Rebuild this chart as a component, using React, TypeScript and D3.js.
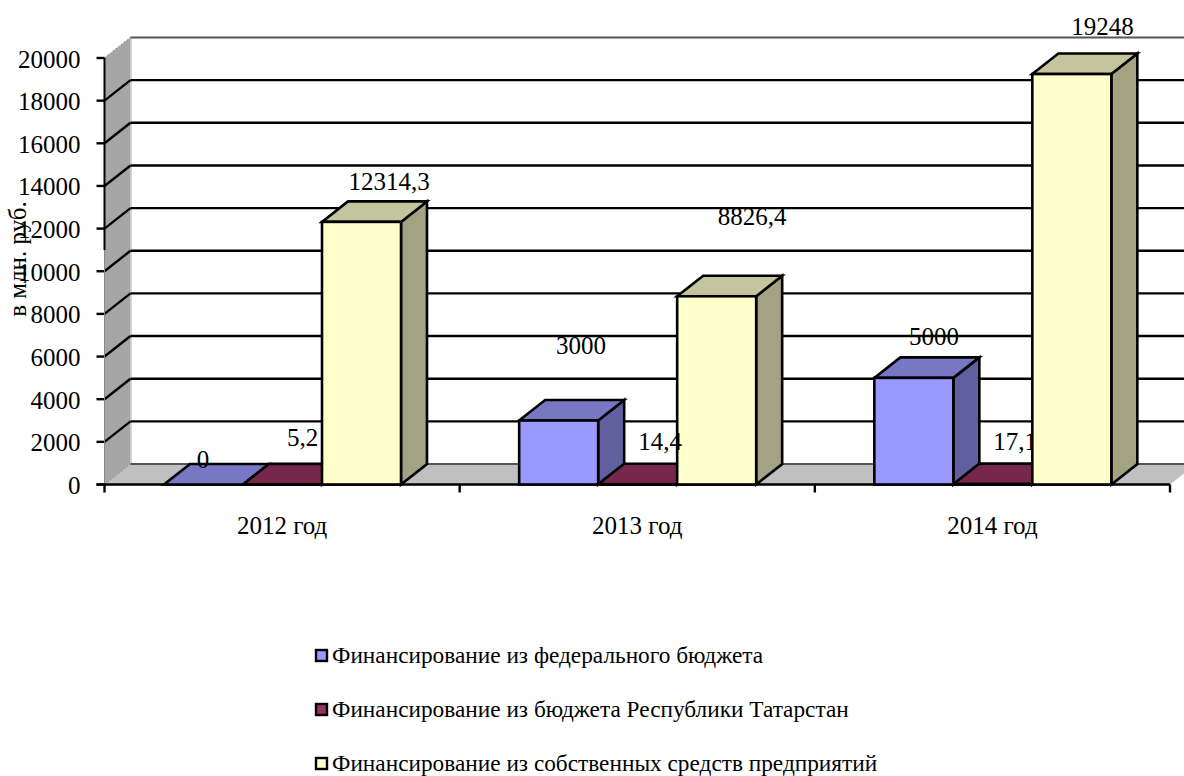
import React from "react";
import * as d3 from "d3";

const categories = ["2012 год", "2013 год", "2014 год"];
const seriesNames = [
  "Финансирование из федерального бюджета",
  "Финансирование из бюджета Республики Татарстан",
  "Финансирование из собственных средств предприятий",
];
const federal = [0, 3000, 5000];
const republic = [5.2, 14.4, 17.1];
const own = [12314.3, 8826.4, 19248];
const federalLabels = ["0", "3000", "5000"];
const republicLabels = ["5,2", "14,4", "17,1"];
const ownLabels = ["12314,3", "8826,4", "19248"];
const yTicks = d3.range(0, 20001, 2000);
const yTitle = "в млн. руб.";

const colors = [
  { front: "#9999ff", top: "#7777c4", side: "#6060a0" },
  { front: "#993366", top: "#77264c", side: "#5f1f3e" },
  { front: "#ffffcc", top: "#c4c49e", side: "#a3a383" },
];

const font = "'Liberation Serif','Times New Roman',serif";
const DX = 26;
const DY = -20.5;
const y = d3.scaleLinear().domain([0, 20000]).range([484.5, 58]);
const x0 = d3.scaleBand<string>().domain(categories).range([104.5, 1170]);
const x1 = d3
  .scaleBand<number>()
  .domain([0, 1, 2])
  .range([59.5, 59.5 + 237]);

const seriesVals = [federal, republic, own];
const seriesLabels = [federalLabels, republicLabels, ownLabels];

const labelPos: [number, number][][] = [
  [[203, 459], [302.5, 437], [389, 181]],
  [[581, 345], [660, 441], [752, 216]],
  [[934, 336], [1015, 441], [1102.5, 26]],
];

const poly = (pts: [number, number][]) => pts.map((p) => p.join(",")).join(" ");

function Bar({ x, w, v, c }: { x: number; w: number; v: number; c: (typeof colors)[0] }) {
  const b = y(0);
  const t = y(v);
  return (
    <g stroke="#000" strokeWidth={2.6} strokeLinejoin="miter">
      <polygon
        fill={c.side}
        points={poly([[x + w, b], [x + w, t], [x + w + DX, t + DY], [x + w + DX, b + DY]])}
      />
      <polygon
        fill={c.top}
        points={poly([[x, t], [x + w, t], [x + w + DX, t + DY], [x + DX, t + DY]])}
      />
      <rect x={x} y={t} width={w} height={Math.max(b - t, 0)} fill={c.front} />
    </g>
  );
}

function Label({ i, s }: { i: number; s: number }) {
  return (
    <text
      x={labelPos[i][s][0]}
      y={labelPos[i][s][1]}
      dy="0.34em"
      textAnchor="middle"
      fontSize={25}
    >
      {seriesLabels[s][i]}
    </text>
  );
}

export default function App() {
  const left = 104.5;
  const right = 1170;
  const isEdge = (t: number) => t === 0 || t === 20000;
  return (
    <svg
      width={1184}
      height={776}
      style={{ position: "absolute", left: 0, top: 0, background: "#fff" }}
      fontFamily={font}
      fill="#000"
    >
      {/* left wall */}
      <polygon
        fill="#a6a6a6"
        points={poly([[left, y(0)], [left, y(20000)], [left + DX, y(20000) + DY], [left + DX, y(0) + DY]])}
      />
      <line x1={left + DX + 0.5} x2={left + DX + 0.5} y1={y(20000) + DY} y2={y(0) + DY} stroke="#c8c8c8" strokeWidth={1.5} />
      {/* floor */}
      <polygon
        fill="#c0c0c0"
        points={poly([[left, y(0)], [right, y(0)], [right + DX, y(0) + DY], [left + DX, y(0) + DY]])}
      />
      {/* grid */}
      {yTicks.map((t) => (
        <g key={t} fill="none">
          <line
            x1={left}
            y1={y(t)}
            x2={left + DX}
            y2={y(t) + DY}
            stroke={isEdge(t) ? "#999" : "#000"}
            strokeWidth={isEdge(t) ? 1.2 : 2.4}
            strokeDasharray={isEdge(t) ? "2 1.5" : undefined}
          />
          <line
            x1={left + DX}
            y1={y(t) + DY}
            x2={1184}
            y2={y(t) + DY}
            stroke={isEdge(t) ? "#555" : "#000"}
            strokeWidth={isEdge(t) ? 1.8 : 2.4}
          />
          <line x1={left - 8} x2={left} y1={y(t)} y2={y(t)} stroke="#000" strokeWidth={2.4} />
        </g>
      ))}
      {/* axes */}
      <line x1={left} x2={left} y1={y(20000)} y2={250} stroke="#000" strokeWidth={2} />
      <line x1={left} x2={left} y1={250} y2={y(0)} stroke="#888" strokeWidth={1} />
      <line x1={left - 8} x2={right} y1={y(0)} y2={y(0)} stroke="#000" strokeWidth={2.6} />
      {[0, 1, 2, 3].map((i) => (
        <line
          key={i}
          x1={left + i * x0.step()}
          x2={left + i * x0.step()}
          y1={y(0)}
          y2={y(0) + 8}
          stroke="#000"
          strokeWidth={2.4}
        />
      ))}
      {/* bars: the 2014 republic label sits behind the bar next to it */}
      {categories.map((cat, i) => (
        <g key={cat}>
          {[0, 1].map((s) => (
            <Bar key={s} x={x0(cat)! + x1(s)!} w={x1.bandwidth()} v={seriesVals[s][i]} c={colors[s]} />
          ))}
          {i === 2 && <Label i={2} s={1} />}
          <Bar x={x0(cat)! + x1(2)!} w={x1.bandwidth()} v={seriesVals[2][i]} c={colors[2]} />
        </g>
      ))}
      {/* tick labels */}
      {yTicks.map((t) => (
        <text key={t} x={80.5} y={y(t) + 1} dy="0.34em" textAnchor="end" fontSize={25}>
          {t}
        </text>
      ))}
      {categories.map((cat) => (
        <text
          key={cat}
          x={x0(cat)! + x0.bandwidth() / 2}
          y={534}
          textAnchor="middle"
          fontSize={25}
        >
          {cat}
        </text>
      ))}
      {/* data labels */}
      {categories.map((cat, i) =>
        [0, 1, 2].map((s) =>
          i === 2 && s === 1 ? null : <Label key={cat + s} i={i} s={s} />
        )
      )}
      {/* axis title */}
      <text transform="translate(26,259) rotate(-90)" textAnchor="middle" fontSize={25}>
        {yTitle}
      </text>
      {/* legend */}
      {seriesNames.map((name, i) => (
        <g key={name}>
          <rect
            x={316}
            y={650 + i * 54}
            width={11}
            height={11}
            fill={colors[i].front}
            stroke="#000"
            strokeWidth={2.4}
          />
          <text x={332} y={655.5 + i * 54} dy="0.34em" fontSize={23.3}>
            {name}
          </text>
        </g>
      ))}
    </svg>
  );
}
